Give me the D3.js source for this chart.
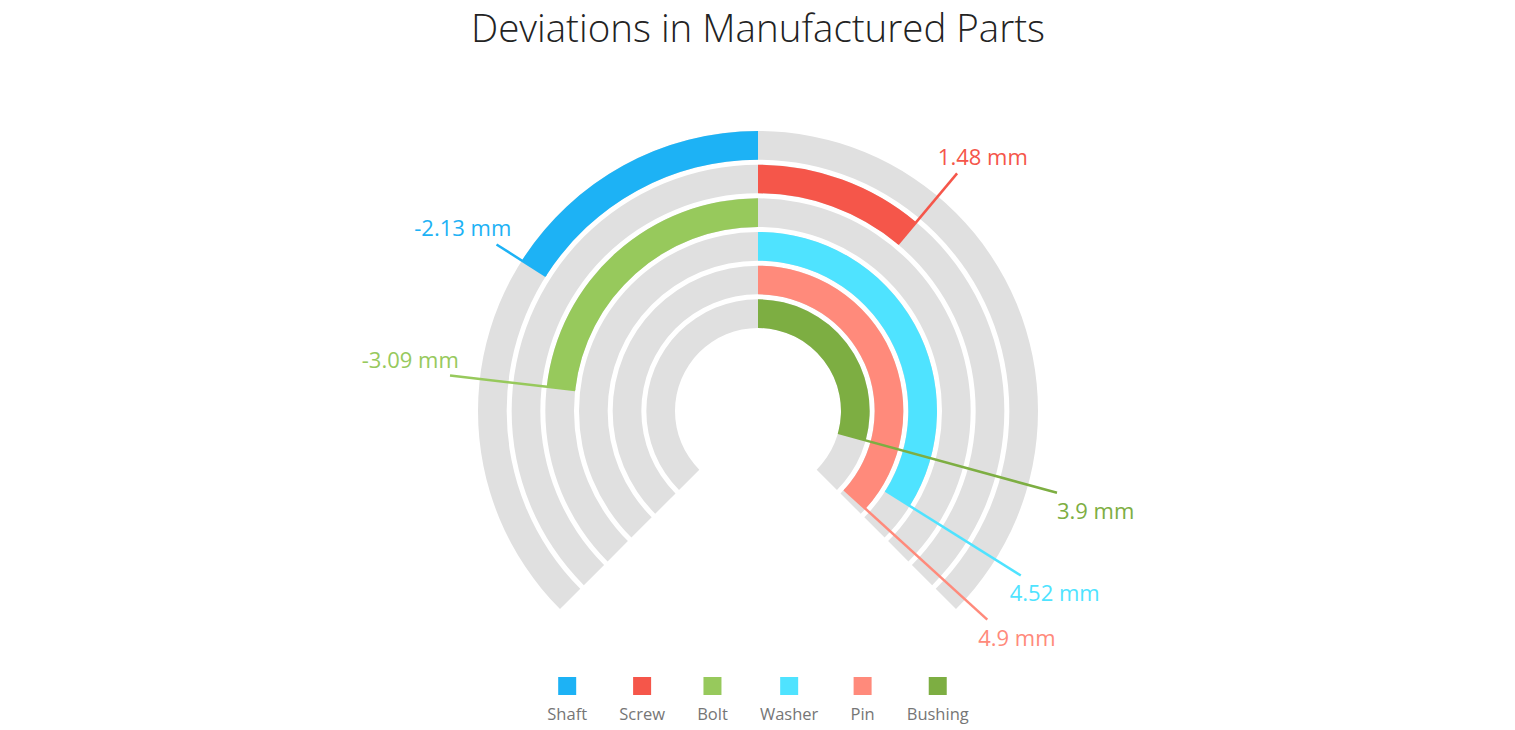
<!DOCTYPE html>
<html>
<head>
<meta charset="utf-8">
<script src="https://cdn.jsdelivr.net/npm/d3@7/dist/d3.min.js"></script>
<style>
  html, body { margin: 0; padding: 0; background: #fff; }
  svg { display: block; }
</style>
</head>
<body>
<svg id="chart" width="1515" height="730"></svg>
<script>
const title = "Deviations in Manufactured Parts";
const categories = ["Shaft", "Screw", "Bolt", "Washer", "Pin", "Bushing"];
const values = [-2.13, 1.48, -3.09, 4.52, 4.9, 3.9];
const colors = ["#1db2f5", "#f5564a", "#97c95c", "#4fe3ff", "#ff8a7b", "#7dae42"];
const scaleDomain = [-5, 5];
const unit = " mm";

const W = 1515, H = 730;
const cx = 758, cy = 411;
const outerR = 280, innerR = 83, gap = 5;
const n = categories.length;
const thick = (outerR - innerR - gap * (n - 1)) / n;
const startA = -135 * Math.PI / 180, endA = 135 * Math.PI / 180;

const svg = d3.select("#chart");
const font = "'Open Sans', 'Noto Sans', sans-serif";

const angle = d3.scaleLinear().domain(scaleDomain).range([startA, endA]);
const zeroA = angle(0);

svg.append("text")
  .attr("x", cx).attr("y", 42)
  .attr("text-anchor", "middle")
  .attr("font-family", font)
  .attr("font-weight", 300)
  .attr("font-size", 38.5)
  .attr("fill", "#232323")
  .text(title);

const g = svg.append("g").attr("transform", `translate(${cx},${cy})`);
const arc = d3.arc();

const ro = i => outerR - i * (thick + gap);
const ri = i => ro(i) - thick;

// background tracks
g.selectAll("path.track").data(categories).join("path")
  .attr("class", "track")
  .attr("fill", "#e0e0e0")
  .attr("d", (d, i) => arc({innerRadius: ri(i), outerRadius: ro(i), startAngle: startA, endAngle: endA}));

// value bars
g.selectAll("path.bar").data(values).join("path")
  .attr("class", "bar")
  .attr("fill", (d, i) => colors[i])
  .attr("d", (d, i) => {
    const a = angle(d);
    return arc({innerRadius: ri(i), outerRadius: ro(i),
      startAngle: Math.min(a, zeroA), endAngle: Math.max(a, zeroA)});
  });

// connectors and labels
const lineR = outerR + 30;
values.forEach((v, i) => {
  const a = angle(v);
  const dx = Math.sin(a), dy = -Math.cos(a);
  const x0 = dx * ri(i), y0 = dy * ri(i);
  const x1 = dx * lineR, y1 = dy * lineR;
  g.append("line")
    .attr("x1", x0).attr("y1", y0).attr("x2", x1).attr("y2", y1)
    .attr("stroke", colors[i]).attr("stroke-width", 2.5);
  const lx = x1 + dx * 40;
  const ly = y1 + Math.sign(dy) * 17;
  g.append("text")
    .attr("x", lx).attr("y", ly)
    .attr("text-anchor", "middle")
    .attr("dominant-baseline", "central")
    .attr("font-family", font)
    .attr("font-size", 22)
    .attr("fill", colors[i])
    .text(v + unit);
});

// legend
const legend = svg.append("g");
const items = legend.selectAll("g").data(categories).join("g");
items.append("text")
  .attr("text-anchor", "middle")
  .attr("y", 720)
  .attr("font-family", font)
  .attr("font-size", 16.5)
  .attr("fill", "#767676")
  .text(d => d);
const widths = [];
items.select("text").each(function () { widths.push(Math.max(18, this.getBBox().width)); });
const lgap = 32;
const total = d3.sum(widths) + lgap * (n - 1);
let xpos = cx - total / 2;
const centers = widths.map(w => { const c = xpos + w / 2; xpos += w + lgap; return c; });
items.select("text").attr("x", (d, i) => centers[i]);
items.append("rect")
  .attr("x", (d, i) => centers[i] - 9)
  .attr("y", 677)
  .attr("width", 18).attr("height", 18)
  .attr("fill", (d, i) => colors[i]);
</script>
</body>
</html>
